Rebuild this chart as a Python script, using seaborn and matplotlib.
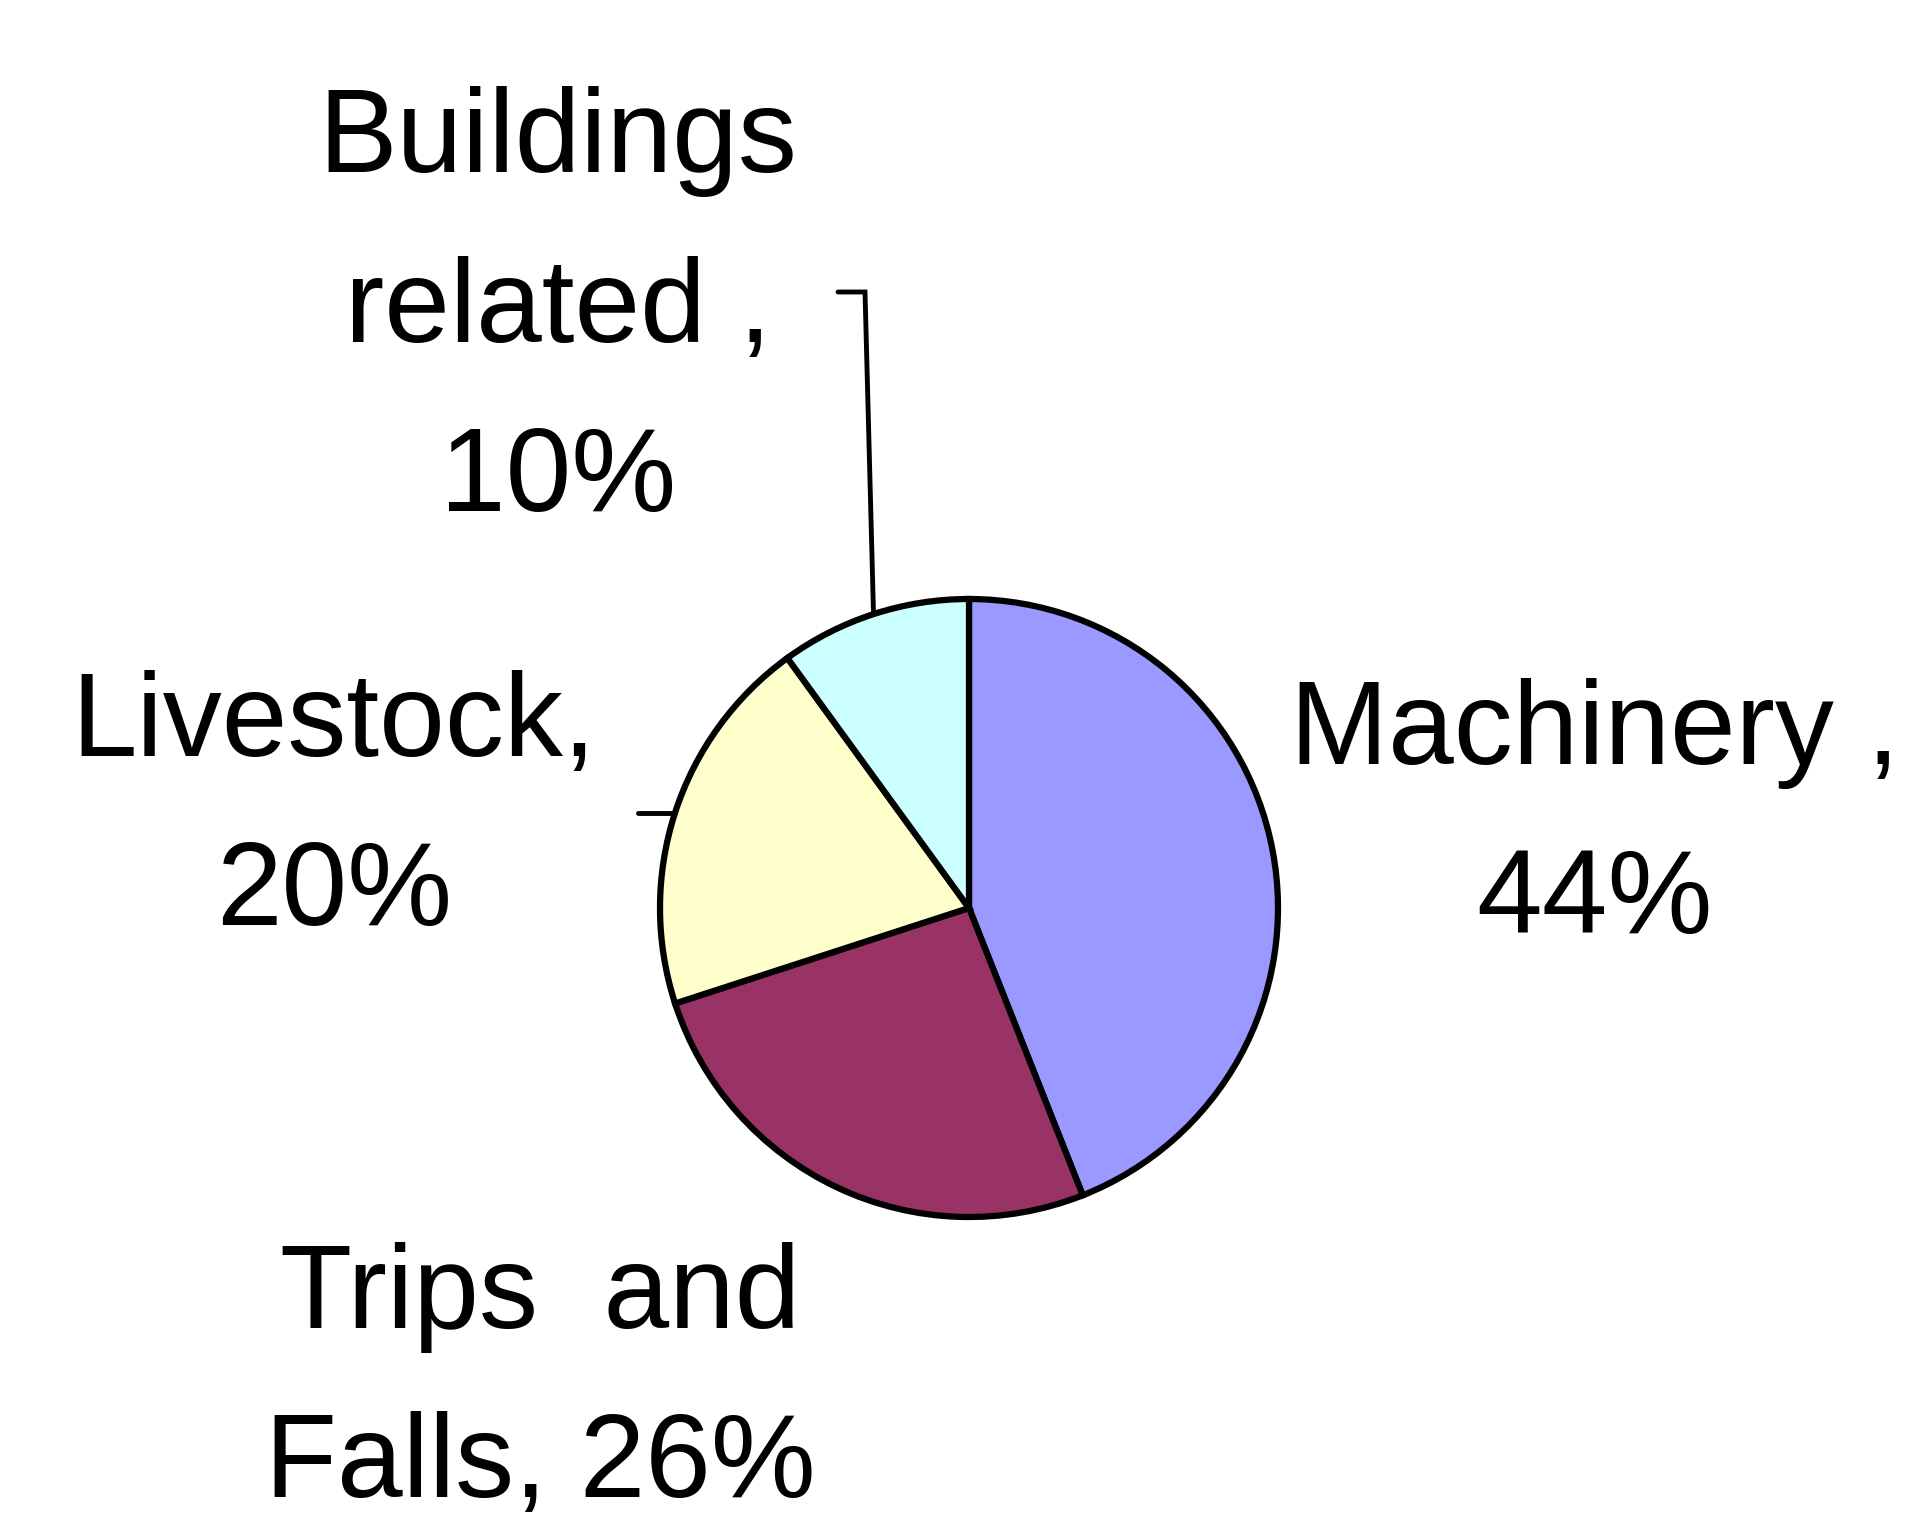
import numpy as np
import matplotlib
matplotlib.use("Agg")
import matplotlib.pyplot as plt
import seaborn as sns

sns.set_theme(style="white")
plt.rcParams["font.family"] = ["Liberation Sans", "DejaVu Sans"]

# Causes of farm accidents (share of total, %)
categories = ["Machinery", "Trips and Falls", "Livestock", "Buildings related"]
shares = [44, 26, 20, 10]
colors = ["#9999FF", "#993366", "#FFFFCC", "#CCFFFF"]
label_texts = ["Machinery ,\n44%", "Trips  and\nFalls, 26%", "Livestock,\n20%", "Buildings\nrelated ,\n10%"]

W, H = 1924, 1523
fig = plt.figure(figsize=(W / 100, H / 100), dpi=100)
ax = fig.add_axes([0, 0, 1, 1])

cx, cy, r = 969, H - 908, 309
wedges, _ = ax.pie(shares, colors=colors, startangle=90, counterclock=False,
                   center=(cx, cy), radius=r, frame=True,
                   wedgeprops=dict(edgecolor="black", linewidth=4.5))
ax.set_xlim(0, W)
ax.set_ylim(0, H)
ax.set_aspect("equal")
ax.axis("off")

fs = 85
ls = 1.68
text_pos = {
    "Machinery": (1595, H - 818),
    "Trips and Falls": (540, H - 1382),
    "Livestock": (334, H - 810),
    "Buildings related": (558, H - 311),
}
for cat, txt in zip(categories, label_texts):
    x, y = text_pos[cat]
    ax.text(x, y, txt, ha="center", va="center", fontsize=fs,
            linespacing=ls, color="black")

# leader lines to the two small slices
def edge_point(w):
    mid = np.deg2rad((w.theta1 + w.theta2) / 2)
    return cx + r * np.cos(mid), cy + r * np.sin(mid)

bx, by = edge_point(wedges[3])
ax.plot([838, 865, bx], [H - 292, H - 292, by], color="black", lw=3.5,
        solid_joinstyle="miter")
lx, ly = edge_point(wedges[2])
ax.plot([638, lx], [ly, ly], color="black", lw=3.5)

fig.savefig("out.png", dpi=100, facecolor="white")
